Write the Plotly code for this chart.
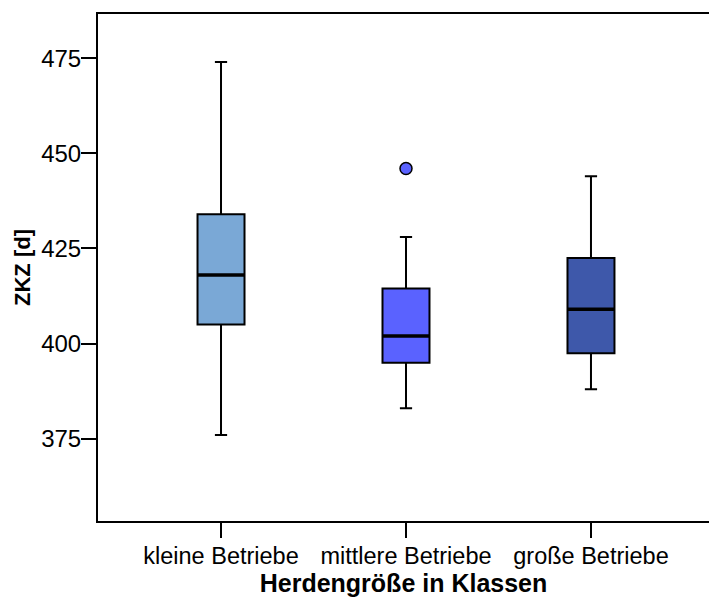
import plotly.graph_objects as go

# Herd size classes and box statistics of ZKZ (days)
categories = ["kleine Betriebe", "mittlere Betriebe", "große Betriebe"]
lower_whisker = [376, 383, 388]
q1 = [405, 395, 397.5]
median = [418, 402, 409]
q3 = [434, 414.5, 422.5]
upper_whisker = [474, 428, 444]
outlier_class = [1]
outlier_value = [446]

fill_colors = ["#7AA8D6", "#5A62FF", "#3E58AA"]
y_ticks = [375, 400, 425, 450, 475]

box_width = 0.254
font_family = "Liberation Sans, Arial, sans-serif"

fig = go.Figure()

for i, name in enumerate(categories):
    fig.add_trace(go.Box(
        x=[i],
        q1=[q1[i]], median=[median[i]], q3=[q3[i]],
        lowerfence=[lower_whisker[i]], upperfence=[upper_whisker[i]],
        width=box_width,
        whiskerwidth=0.26,
        fillcolor=fill_colors[i],
        line=dict(color="black", width=2),
        name=name,
        boxpoints=False,
        hoverinfo="skip",
    ))
    # heavier median bar drawn on top of the box
    fig.add_trace(go.Scatter(
        x=[i - box_width / 2, i + box_width / 2],
        y=[median[i], median[i]],
        mode="lines",
        line=dict(color="black", width=3.5),
        hoverinfo="skip",
    ))

# outlier marker
fig.add_trace(go.Scatter(
    x=outlier_class, y=outlier_value,
    mode="markers",
    marker=dict(symbol="circle", size=12, color=fill_colors[1],
                line=dict(color="black", width=1.5)),
    hoverinfo="skip",
))

fig.update_layout(
    width=709, height=602,
    margin=dict(l=98, r=0, t=14, b=81),
    paper_bgcolor="white", plot_bgcolor="white",
    showlegend=False,
    font=dict(family=font_family, size=21, color="black"),
    xaxis=dict(
        range=[-0.665, 2.638],
        tickmode="array", tickvals=list(range(len(categories))), ticktext=categories,
        ticks="outside", ticklen=15, tickwidth=2, tickcolor="black",
        showline=True, linecolor="black", linewidth=2, mirror=True,
        showgrid=False, zeroline=False,
        tickfont=dict(size=23.5),
        ticklabelstandoff=-2,
        title=dict(text="<b>Herdengröße in Klassen</b>", font=dict(size=25), standoff=4),
    ),
    yaxis=dict(
        range=[353.4, 486.6],
        tickmode="array", tickvals=y_ticks,
        ticks="outside", ticklen=15, tickwidth=2, tickcolor="black",
        showline=True, linecolor="black", linewidth=2,
        showgrid=False, zeroline=False,
        tickfont=dict(size=24),
        ticklabelstandoff=-5,
        title=dict(text="<b>ZKZ [d]</b>", font=dict(size=22), standoff=4),
    ),
)

fig.write_html("out.html")
